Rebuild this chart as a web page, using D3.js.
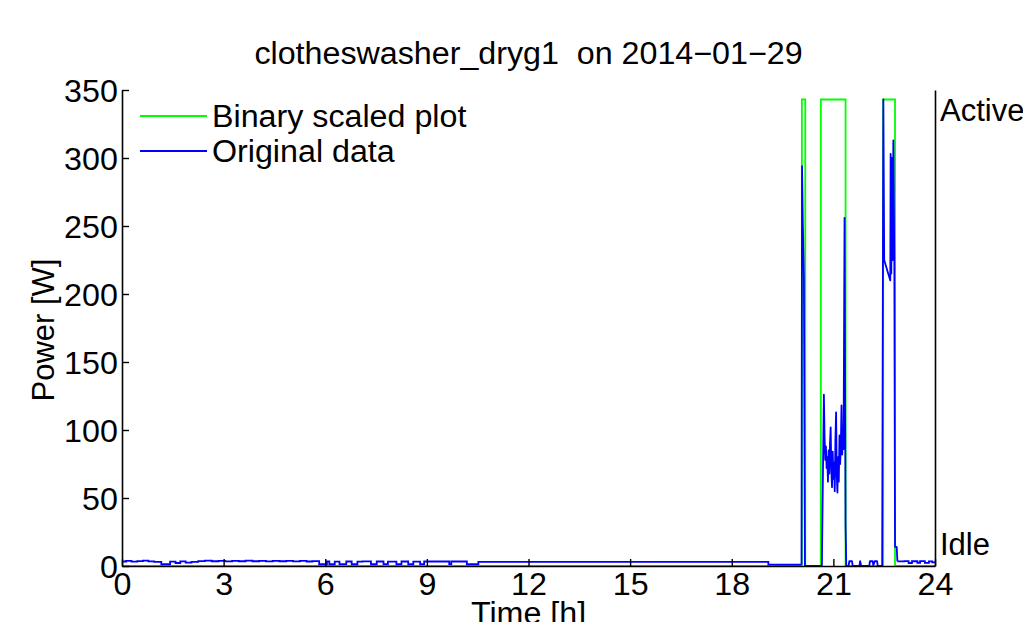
<!DOCTYPE html>
<html>
<head>
<meta charset="utf-8">
<script src="https://cdn.jsdelivr.net/npm/d3@7"></script>
<style>
  body { margin: 0; background: #fff; }
  svg { display: block; }
  text { font-family: "Liberation Sans", Arial, Helvetica, sans-serif; fill: #000; }
</style>
</head>
<body>
<div id="chart"></div>
<script>
// Chart text and ticks
const title = "clotheswasher_dryg1  on 2014\u221201\u221229";
const xTicks = [0, 3, 6, 9, 12, 15, 18, 21, 24];
const yTicks = [0, 50, 100, 150, 200, 250, 300, 350];
const stateLabels = ["Idle", "Active"];
const stateTicks = [0.047, 0.96];

// Binary scaled plot (step, hours -> W)
const binT = [0, 20.07, 20.17, 20.63, 21.36, 22.47, 22.82, 24];
const binV = [0, 343, 0, 343, 0, 343, 0, 0];

// Original data, idle parts (step levels, hours -> W)
const idleT1 = [0, 0.12, 0.28, 0.45, 0.62, 0.78, 0.95, 1.16, 1.42, 1.58, 1.72, 1.88, 2.05, 2.25,
  2.45, 2.65, 2.85, 3.05, 3.25, 3.45, 3.65, 3.85, 4.05, 4.25, 4.45, 4.65, 4.85, 5.05, 5.25,
  5.45, 5.62, 5.82, 6.05, 6.12, 6.28, 6.42, 6.62, 6.78, 6.95, 7.10, 7.35, 7.52, 7.72, 7.85,
  8.10, 8.25, 8.45, 8.60, 8.80, 8.92, 9.66, 9.72, 10.18, 10.52, 19.08, 20.06];
const idleW1 = [3.3, 3.7, 3.2, 3.6, 3.9, 3.4, 3.0, 1.3, 3.2, 2.2, 3.4, 2.5, 3.0, 3.6,
  3.9, 3.5, 3.8, 3.4, 3.8, 3.5, 3.9, 3.5, 3.8, 3.4, 3.8, 3.5, 3.8, 3.4, 3.7,
  3.3, 3.6, 1.3, 3.3, 1.3, 3.2, 1.4, 3.3, 1.3, 3.2, 3.4, 1.3, 3.3, 1.4, 3.2,
  1.3, 3.3, 1.3, 3.2, 1.4, 3.3, 1.4, 3.3, 1.3, 3.0, 1.0, 1.0];
const idleT2 = [22.89, 23.10, 23.22, 23.32, 23.48, 23.56, 23.70, 23.82, 23.92, 24];
const idleW2 = [3.4, 3.6, 2.2, 3.5, 2.4, 3.6, 2.3, 3.4, 2.6, 2.6];

// Original data, active bursts (hours -> W)
const burstT = [20.06, 20.075, 20.10, 20.13, 20.16, 20.66,
  20.72, 20.74, 20.76, 20.78, 20.80, 20.82, 20.84, 20.86, 20.88, 20.90, 20.92, 20.94, 20.96,
  20.98, 21.00, 21.02, 21.04, 21.06, 21.08, 21.10, 21.12, 21.14, 21.16, 21.18, 21.20, 21.22,
  21.24, 21.26, 21.28, 21.30, 21.33, 21.36, 21.38,
  21.45, 21.47, 21.55, 21.57, 21.77, 21.79, 21.82, 22.06, 22.08, 22.16, 22.18, 22.22, 22.29,
  22.31, 22.44,
  22.475, 22.50, 22.68, 22.69, 22.71, 22.73, 22.75, 22.77, 22.80, 22.82, 22.87, 22.89];
const burstW = [1.0, 294, 250, 213, 0, 0,
  126, 95, 78, 88, 72, 80, 62, 85, 68, 90, 102, 70, 58,
  84, 64, 76, 55, 92, 113, 66, 54, 80, 62, 96, 75, 88,
  118, 82, 92, 86, 256, 30, 0,
  0, 3.5, 3.5, 0, 0, 3.5, 0, 0, 3.5, 3.5, 0.5, 3.5, 3.5,
  0, 0,
  343, 225, 210, 303, 215, 300, 225, 313, 222, 14, 14, 3.4];

const width = 1023;
const height = 622;
const margin = { top: 90, right: 88, bottom: 56, left: 122 };
const sx = 1.04; // slight horizontal widening of the text

const svg = d3.select("#chart")
  .append("svg")
  .attr("width", width)
  .attr("height", height);

const x = d3.scaleLinear().domain([0, 24]).range([margin.left, width - margin.right]);
const y = d3.scaleLinear().domain([0, 350]).range([height - margin.bottom, margin.top]);
const y2 = d3.scaleLinear().domain([0, 1]).range([height - margin.bottom, margin.top]);

const zip = (t, v) => t.map((d, i) => [d, v[i]]);

// Data lines
const stepLine = d3.line().x(d => x(d[0])).y(d => y(d[1])).curve(d3.curveStepAfter);
const line = d3.line().x(d => x(d[0])).y(d => y(d[1]));

svg.append("path")
  .datum(zip(binT, binV))
  .attr("fill", "none")
  .attr("stroke", "#00ff00")
  .attr("stroke-width", 1.8)
  .attr("d", stepLine);

[zip(idleT1, idleW1), zip(idleT2, idleW2)].forEach(seg => {
  svg.append("path")
    .datum(seg)
    .attr("fill", "none")
    .attr("stroke", "#0000ff")
    .attr("stroke-width", 1.8)
    .attr("d", stepLine);
});

svg.append("path")
  .datum(zip(burstT, burstW))
  .attr("fill", "none")
  .attr("stroke", "#0000ff")
  .attr("stroke-width", 1.8)
  .attr("stroke-linejoin", "round")
  .attr("d", line);

// Axes
const xAxis = svg.append("g")
  .attr("transform", `translate(0,${height - margin.bottom})`)
  .call(d3.axisBottom(x).tickValues(xTicks).tickSizeInner(-7).tickSizeOuter(0));

xAxis.selectAll("text")
  .attr("y", 29)
  .attr("dy", 0)
  .style("font-size", "31px")
  .attr("transform", `scale(${sx},1)`);

const yAxis = svg.append("g")
  .attr("transform", `translate(${margin.left},0)`)
  .call(d3.axisLeft(y).tickValues(yTicks).tickSizeInner(-7).tickSizeOuter(0).tickPadding(4));

yAxis.selectAll("text")
  .attr("dy", "0.36em")
  .style("font-size", "31px")
  .attr("transform", `scale(${sx},1)`);

const rAxis = svg.append("g")
  .attr("transform", `translate(${width - margin.right},0)`)
  .call(d3.axisRight(y2).tickValues(stateTicks).tickFormat((d, i) => stateLabels[i])
    .tickSize(0).tickPadding(5));

rAxis.selectAll("text")
  .attr("dy", "0.36em")
  .style("font-size", "31px");

svg.selectAll(".domain")
  .attr("stroke", "#000")
  .attr("stroke-width", 1.6);
svg.selectAll(".tick line")
  .attr("stroke", "#000")
  .attr("stroke-width", 1.4);

// Title and axis labels
svg.append("text")
  .attr("transform", `translate(${(margin.left + width - margin.right) / 2},64) scale(${sx},1)`)
  .attr("text-anchor", "middle")
  .style("font-size", "31px")
  .style("white-space", "pre")
  .attr("xml:space", "preserve")
  .text(title);

svg.append("text")
  .attr("transform", `translate(${(margin.left + width - margin.right) / 2},624) scale(${sx},1)`)
  .attr("text-anchor", "middle")
  .style("font-size", "31px")
  .text("Time [h]");

svg.append("text")
  .attr("transform", `translate(54,${(margin.top + height - margin.bottom) / 2 + 2}) rotate(-90)`)
  .attr("text-anchor", "middle")
  .style("font-size", "31px")
  .text("Power [W]");

// Legend
const legend = [
  { name: "Binary scaled plot", color: "#00ff00" },
  { name: "Original data", color: "#0000ff" }
];

const lg = svg.append("g")
  .selectAll("g")
  .data(legend)
  .enter().append("g")
  .attr("transform", (d, i) => `translate(140,${116 + i * 35})`);

lg.append("line")
  .attr("x1", 0)
  .attr("x2", 67)
  .attr("stroke", d => d.color)
  .attr("stroke-width", 1.8);

lg.append("text")
  .attr("transform", `translate(72,11) scale(${sx},1)`)
  .style("font-size", "31px")
  .text(d => d.name);
</script>
</body>
</html>
